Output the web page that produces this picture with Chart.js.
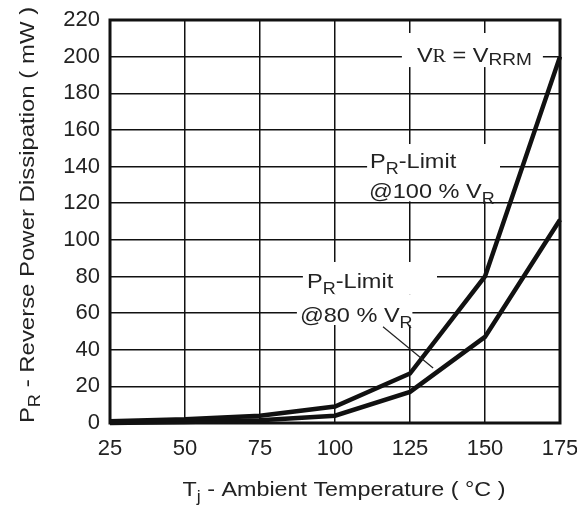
<!DOCTYPE html>
<html><head><meta charset="utf-8">
<script src="https://cdn.jsdelivr.net/npm/chart.js@4/dist/chart.umd.min.js"></script>
<style>html,body{margin:0;padding:0;background:#fff}canvas{display:block}</style>
</head><body>
<canvas id="c" width="577" height="507"></canvas>
<script>
// ---- data ----
const temps = [25, 50, 75, 100, 125, 150, 175];
const pr100 = [1, 2, 4, 9, 27, 80, 200];
const pr80  = [0, 0.5, 1.5, 4, 17, 47, 111];
const xTicks = [25, 50, 75, 100, 125, 150, 175];
const yTicks = [0, 20, 40, 60, 80, 100, 120, 140, 160, 180, 200, 220];
const seriesNames = ['PR-Limit @100 % VR', 'PR-Limit @80 % VR'];
// text runs: [text, style] style 0 normal, 1 subscript, 2 serif, 3 small lowered
const xTitleRuns = [['T', 0], ['j', 1], [' - Ambient Temperature ( \u00B0C )', 0]];
const yTitleRuns = [['P', 0], ['R', 1], [' - Reverse Power Dissipation ( mW )', 0]];
const vrrmRuns = [['V', 0], ['R', 2], [' = V', 0], ['RRM', 3]];
const lim100Runs = [[['P', 0], ['R', 1], ['-Limit', 0]], [['@100 % V', 0], ['R', 1]]];
const lim80Runs  = [[['P', 0], ['R', 1], ['-Limit', 0]], [['@80 % V', 0], ['R', 1]]];

const FAM = '"Liberation Sans", Arial, Helvetica, sans-serif';

function setRunFont(ctx, st, size) {
  let s = size;
  if (st === 1) s = Math.round(size * 0.75);
  else if (st === 2) s = Math.round(size * 0.85);
  else if (st === 3) s = Math.round(size * 0.8);
  ctx.font = (st === 2 ? `${s}px "Liberation Serif", serif` : `${s}px ${FAM}`);
}
function runOffset(st, size) {
  if (st === 1) return size * 0.3;
  if (st === 3) return size * 0.12;
  return 0;
}
function runsWidth(ctx, runs, size, sx) {
  let w = 0;
  for (const [t, st] of runs) { setRunFont(ctx, st, size); w += ctx.measureText(t).width; }
  return w * sx;
}
function drawRuns(ctx, runs, x, y, size, sx) {
  ctx.save();
  ctx.translate(x, y);
  ctx.scale(sx, 1);
  let cx = 0;
  for (const [t, st] of runs) {
    setRunFont(ctx, st, size);
    ctx.fillText(t, cx, runOffset(st, size));
    cx += ctx.measureText(t).width;
  }
  ctx.restore();
  return cx * sx;
}

const annot = {
  id: 'annot',
  beforeDatasetsDraw(chart) {
    const {ctx, chartArea: a, scales: {x, y}} = chart;
    ctx.save();
    ctx.strokeStyle = '#111';
    ctx.lineWidth = 3;
    ctx.strokeRect(a.left, a.top, a.right - a.left, a.bottom - a.top);
    ctx.fillStyle = '#fff';
    const boxes = [
      [122.3, 169.3, 212.9, 194.3],
      [110.7, 155, 152.3, 121],
      [89.3, 134, 87.9, 70],
      [87.3, 125.8, 70, 53.5]
    ];
    for (const [x0, x1, y0, y1] of boxes) {
      const px0 = x.getPixelForValue(x0), px1 = x.getPixelForValue(x1);
      const py0 = y.getPixelForValue(y0), py1 = y.getPixelForValue(y1);
      ctx.fillRect(px0, py0, px1 - px0, py1 - py0);
    }
    ctx.restore();
  },
  afterDatasetsDraw(chart) {
    const {ctx, chartArea: a, scales: {x, y}} = chart;
    ctx.save();
    ctx.fillStyle = '#222';
    ctx.textBaseline = 'alphabetic';
    ctx.textAlign = 'left';
    const S = 21, SX = 1.12;
    drawRuns(ctx, vrrmRuns, x.getPixelForValue(127.3), y.getPixelForValue(197), S, SX);
    drawRuns(ctx, lim100Runs[0], x.getPixelForValue(111.7), y.getPixelForValue(139.2), S, SX);
    drawRuns(ctx, lim100Runs[1], x.getPixelForValue(111.3), y.getPixelForValue(122.8), S, SX);
    drawRuns(ctx, lim80Runs[0], x.getPixelForValue(90.7), y.getPixelForValue(73.7), S, SX);
    drawRuns(ctx, lim80Runs[1], x.getPixelForValue(88.3), y.getPixelForValue(55.1), S, SX);
    ctx.strokeStyle = '#222';
    ctx.lineWidth = 1.2;
    ctx.beginPath();
    ctx.moveTo(x.getPixelForValue(116), y.getPixelForValue(52.5));
    ctx.lineTo(x.getPixelForValue(132.7), y.getPixelForValue(30));
    ctx.stroke();
    // axis titles
    const TS = 21;
    const wx = runsWidth(ctx, xTitleRuns, TS, 1.11);
    drawRuns(ctx, xTitleRuns, 344 - wx / 2, 496, TS, 1.11);
    const wy = runsWidth(ctx, yTitleRuns, TS, 1.14);
    ctx.translate(34, 215);
    ctx.rotate(-Math.PI / 2);
    drawRuns(ctx, yTitleRuns, -wy / 2, 0, TS, 1.14);
    ctx.restore();
  }
};

const tickFont = {size: 22, family: FAM};
new Chart(document.getElementById('c'), {
  type: 'line',
  data: {
    datasets: [
      {label: seriesNames[0], data: temps.map((t, i) => ({x: t, y: pr100[i]})),
       borderColor: '#111', borderWidth: 4.5, pointRadius: 0, tension: 0, fill: false, clip: 5},
      {label: seriesNames[1], data: temps.map((t, i) => ({x: t, y: pr80[i]})),
       borderColor: '#111', borderWidth: 4.5, pointRadius: 0, tension: 0, fill: false, clip: 5}
    ]
  },
  options: {
    responsive: false,
    animation: false,
    layout: {padding: {top: 20, right: 17, left: 0, bottom: 0}},
    plugins: {legend: {display: false}, tooltip: {enabled: false}},
    scales: {
      x: {
        type: 'linear', min: 25, max: 175,
        afterBuildTicks: s => { s.ticks = xTicks.map(v => ({value: v})); },
        afterFit: s => { s.height = 84; s.paddingLeft = 0; s.paddingRight = 0; },
        grid: {color: '#111', lineWidth: 1.5, drawTicks: false},
        border: {display: false},
        ticks: {color: '#222', font: tickFont, padding: 13, maxRotation: 0, autoSkip: false}
      },
      y: {
        type: 'linear', min: 0, max: 220,
        afterBuildTicks: s => { s.ticks = yTicks.map(v => ({value: v})); },
        afterFit: s => { s.width = 110; s.paddingTop = 0; s.paddingBottom = 0; },
        grid: {color: '#111', lineWidth: 1.5, drawTicks: false},
        border: {display: false},
        ticks: {color: '#222', font: tickFont, padding: 10, autoSkip: false}
      }
    }
  },
  plugins: [annot]
});
</script>
</body></html>
